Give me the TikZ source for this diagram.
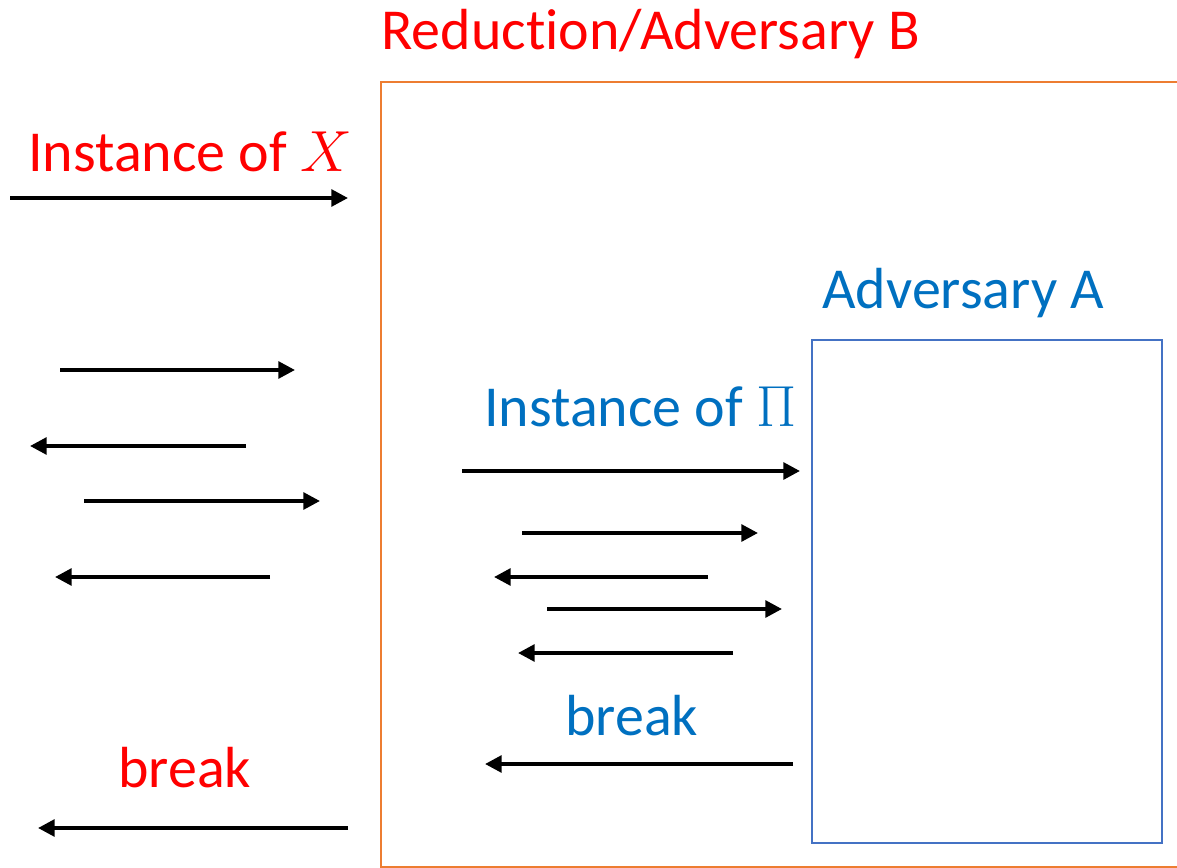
\RequirePackage{fix-cm}
\documentclass[tikz,border=0pt]{standalone}
\usepackage{fontspec}
\setmainfont{Carlito}[RawFeature={-liga;-dlig;-clig}]
\usetikzlibrary{arrows.meta}
\definecolor{redtxt}{HTML}{FF0000}
\definecolor{bluetxt}{HTML}{0070C0}
\definecolor{orangebox}{HTML}{ED7D31}
\definecolor{bluebox}{HTML}{4472C4}
\begin{document}
\begin{tikzpicture}[x=0.02cm,y=-0.02cm,
  lbl/.style={inner sep=0pt, anchor=base west, font=\fontsize{33}{40}\selectfont},
  msg/.style={line width=2.2pt, -{Triangle[length=9.5pt,width=9.5pt]}}]
\useasboundingbox (0,0) rectangle (1177,868);
\clip (0,0) rectangle (1177,868);
% boxes
\draw[orangebox, line width=1.7pt] (381,868) -- (381,82) -- (1200,82);
\draw[orangebox, line width=1.7pt] (381,867) -- (1200,867);
\node[draw=bluebox, line width=1.3pt, minimum width=350*0.02cm, minimum height=503*0.02cm, inner sep=0pt, anchor=north west] (A) at (811,339) {};
% labels
\node[lbl, text=redtxt] (tB) at (381,50) {Reduction/Adversary B};
\node[lbl, text=redtxt] (tX) at (28,172) {Instance of $X$};
\node[lbl, text=bluetxt] (tA) at (822,309) {Adversary A};
\node[lbl, text=bluetxt] (tPi) at (484,426) {Instance of $\Pi$};
\node[lbl, text=bluetxt] (tbA) at (565,735) {break};
\node[lbl, text=redtxt] (tbB) at (118,787) {break};
% coordinates
\coordinate (o1) at (10,198); \coordinate (o1e) at (348,198);
\coordinate (o2) at (60,370); \coordinate (o2e) at (295,370);
\coordinate (o3) at (246,446); \coordinate (o3e) at (30,446);
\coordinate (o4) at (84,501); \coordinate (o4e) at (320,501);
\coordinate (o5) at (270,577); \coordinate (o5e) at (55,577);
\coordinate (o6) at (348,828); \coordinate (o6e) at (38,828);
\coordinate (i1) at (462,471); \coordinate (i1e) at (800,471);
\coordinate (i2) at (522,533); \coordinate (i2e) at (758,533);
\coordinate (i3) at (708,577); \coordinate (i3e) at (494,577);
\coordinate (i4) at (547,609); \coordinate (i4e) at (782,609);
\coordinate (i5) at (733,653); \coordinate (i5e) at (518,653);
\coordinate (i6) at (793,764); \coordinate (i6e) at (485,764);
% arrows
\foreach \n in {o1,o2,o3,o4,o5,o6,i1,i2,i3,i4,i5,i6}
  \draw[msg] (\n) -- (\n e);
\end{tikzpicture}
\end{document}
